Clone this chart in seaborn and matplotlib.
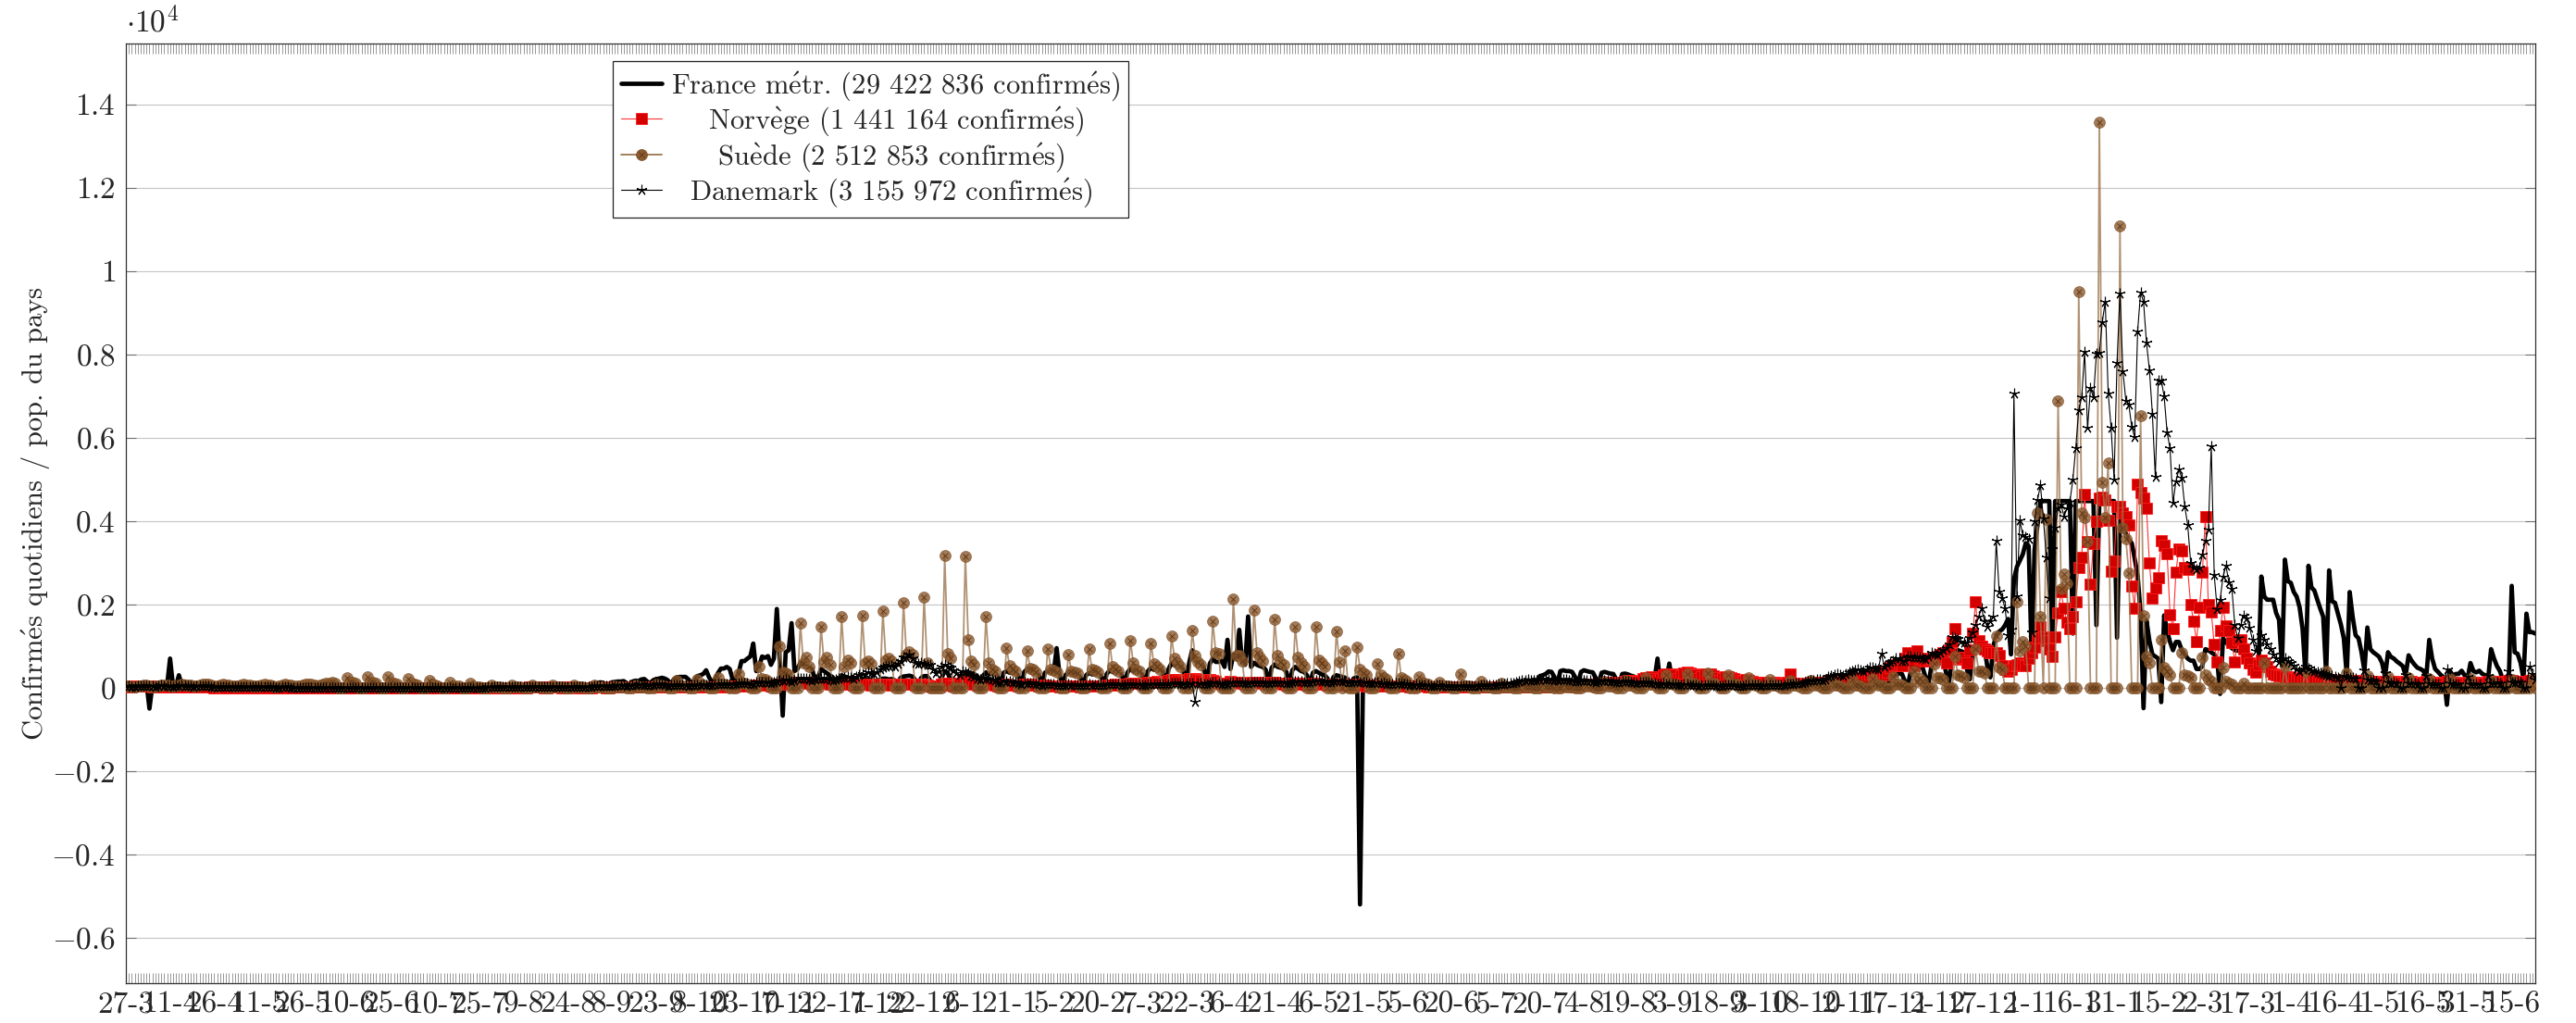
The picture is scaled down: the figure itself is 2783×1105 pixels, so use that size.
import numpy as np
import pandas as pd
import matplotlib
matplotlib.use("Agg")
import matplotlib.pyplot as plt
import seaborn as sns
from matplotlib.lines import Line2D
from matplotlib.ticker import MultipleLocator, FixedLocator, FuncFormatter
from matplotlib.font_manager import FontProperties

# ---------------------------------------------------------------------------
# Daily confirmed cases per million inhabitants, one row per week
# (Fri, Sat, Sun, Mon, Tue, Wed, Thu), first day 27-3-2020, 117 weeks.
# ---------------------------------------------------------------------------
FRANCE_W = [
    [55, 60, 40, 70, 110, 115, 80], [110, -500, 60, 50, 110, 100, 75], [65, 700, 50, 40, 300, 60, 150],
    [60, 30, 25, 40, 50, 30, 25], [25, 20, 15, 10, 20, 25, 20], [15, 10, 5, 5, 15, 20, 15],
    [10, 5, 5, 5, 10, 5, 10], [8, 5, 5, 3, 8, 8, 6], [5, 4, 3, 2, 5, 5, 5],
    [4, 3, 2, 2, 5, 5, 5], [4, 3, 2, 2, 5, 6, 5], [5, 3, 2, 2, 5, 6, 5],
    [5, 3, 2, 3, 6, 7, 6], [6, 4, 2, 3, 7, 8, 7], [8, 5, 3, 4, 8, 9, 9],
    [10, 6, 3, 5, 10, 12, 12], [14, 8, 4, 6, 14, 16, 18], [20, 10, 5, 8, 20, 22, 24],
    [22, 12, 5, 10, 25, 28, 30], [35, 20, 8, 12, 35, 40, 45], [50, 30, 12, 15, 55, 60, 65],
    [70, 50, 20, 25, 70, 80, 85], [95, 80, 30, 40, 95, 105, 110], [130, 120, 50, 60, 130, 140, 150],
    [150, 160, 110, 80, 150, 170, 160], [200, 210, 150, 90, 180, 210, 220], [240, 220, 180, 80, 200, 250, 260],
    [260, 260, 200, 90, 160, 280, 300], [330, 420, 250, 130, 200, 350, 460], [460, 500, 450, 200, 200, 350, 640],
    [640, 700, 750, 1060, 400, 520, 750], [720, 760, 550, 700, 1890, 650, -670], [850, 900, 1550, 400, 450, 600, 550],
    [500, 480, 450, 160, 250, 450, 400], [350, 300, 250, 90, 150, 300, 270], [250, 200, 180, 60, 120, 220, 200],
    [200, 200, 180, 60, 200, 220, 220], [200, 210, 180, 80, 240, 270, 280], [290, 270, 190, 90, 240, 280, 280],
    [180, 80, 50, 150, 250, 400, 360], [180, 200, 60, 80, 300, 380, 330], [320, 330, 280, 60, 290, 370, 330],
    [330, 330, 280, 60, 360, 400, 360], [360, 360, 280, 70, 380, 450, 400], [380, 370, 300, 70, 360, 400, 370],
    [370, 950, 300, 70, 300, 380, 340], [320, 320, 260, 70, 300, 360, 320], [330, 340, 300, 80, 330, 420, 380],
    [390, 390, 330, 90, 360, 460, 400], [380, 380, 320, 90, 400, 480, 430], [460, 460, 400, 100, 450, 590, 540],
    [500, 550, 430, 100, 600, 900, 650], [600, 600, 480, 120, 580, 700, 620], [620, 650, 500, 1150, 450, 800, 700],
    [1390, 600, 550, 1710, 500, 600, 550], [520, 500, 430, 100, 480, 560, 500], [480, 460, 380, 90, 420, 500, 450],
    [400, 380, 300, 80, 360, 400, 360], [320, 300, 220, 60, 260, 300, 280], [260, 240, 160, 50, 230, 250, -5200],
    [200, 190, 130, 40, 160, 180, 150], [140, 130, 90, 30, 110, 120, 100], [90, 80, 50, 20, 70, 70, 60],
    [55, 50, 35, 12, 45, 45, 40], [35, 30, 20, 8, 30, 30, 30], [30, 25, 15, 6, 30, 35, 35],
    [40, 40, 25, 10, 55, 65, 70], [80, 70, 45, 20, 100, 130, 150], [180, 170, 110, 40, 280, 300, 330],
    [390, 380, 260, 80, 400, 420, 400], [400, 380, 260, 90, 380, 420, 400], [380, 370, 240, 80, 360, 380, 360],
    [340, 330, 200, 70, 330, 340, 320], [290, 270, 160, 60, 280, 270, 260], [240, 220, 700, 50, 200, 190, 580],
    [170, 160, 100, 30, 150, 150, 140], [130, 120, 70, 25, 110, 110, 100], [100, 90, 50, 20, 90, 90, 80],
    [80, 75, 40, 15, 75, 75, 70], [70, 70, 35, 12, 70, 70, 65], [65, 60, 30, 12, 65, 70, 65],
    [65, 60, 30, 12, 70, 75, 75], [75, 70, 35, 15, 80, 90, 90], [90, 85, 40, 20, 100, 120, 130],
    [140, 130, 60, 30, 150, 170, 180], [190, 180, 90, 40, 220, 270, 300], [350, 330, 150, 60, 400, 470, 480],
    [500, 480, 250, 100, 520, 700, 720], [700, 680, 350, 150, 700, 880, 900], [880, 850, 450, 200, 850, 980, 1000],
    [950, 950, 500, 250, 1000, 1250, 1350], [1400, 1500, 1650, 800, 2600, 2900, 3050], [3200, 3470, 3400, 800, 3300, 3900, 4450],
    [4480, 4480, 4480, 1050, 4480, 4480, 4480], [4480, 4480, 4480, 1300, 4480, 4480, 4480], [4480, 4480, 4480, 4480, 1500, 4480, 4480],
    [4480, 4480, 4480, 4480, 1200, 4060, 3800], [3700, 3550, 3472, 3100, 2690, 1800, -490], [1614, 1125, 800, 750, 700, -345, 1737],
    [1369, 1100, 900, 1100, 1100, 900, 800], [700, 650, 650, 450, 450, 519, 926], [900, 850, 800, 700, -148, 1186, 1100],
    [1000, 950, 900, 889, 880, 750, 667], [620, 593, 500, 370, 2668, 2186, 2112], [2112, 2112, 1800, 1630, 519, 3075, 2556],
    [2519, 2300, 2186, 1927, 1408, 296, 2927], [2408, 2334, 2112, 1900, 1704, 333, 2816], [2075, 2038, 1778, 1519, 1186, 296, 2297],
    [1704, 1260, 1186, 852, 408, 1445, 926], [852, 800, 741, 593, 259, 852, 741], [700, 630, 580, 519, 300, 778, 650],
    [556, 480, 450, 408, 259, 1149, 700], [450, 380, 300, 250, -408, 408, 296], [330, 333, 408, 300, 222, 593, 400],
    [370, 408, 333, 300, 222, 926, 700], [519, 400, 185, 111, 200, 2445, 852], [815, 600, 222, 1778, 1334, 1334, 1300],
]

NORWAY_W = [
    [45, 40, 30, 35, 45, 50, 45], [40, 35, 25, 30, 35, 35, 30], [25, 20, 15, 15, 20, 20, 20],
    [18, 15, 10, 12, 15, 15, 12], [12, 10, 6, 8, 10, 10, 8], [8, 6, 4, 5, 6, 6, 5],
    [5, 4, 3, 3, 4, 4, 4], [3, 3, 2, 2, 3, 3, 3], [3, 2, 2, 2, 3, 3, 3],
    [3, 2, 2, 2, 3, 3, 3], [3, 2, 1, 2, 3, 3, 2], [2, 2, 1, 2, 3, 3, 2],
    [2, 2, 1, 2, 2, 3, 2], [2, 2, 1, 2, 3, 3, 3], [3, 2, 1, 2, 3, 3, 3],
    [3, 2, 2, 2, 3, 3, 3], [3, 2, 2, 2, 3, 4, 4], [4, 3, 2, 3, 4, 4, 4],
    [5, 4, 3, 4, 6, 7, 7], [8, 7, 5, 6, 9, 10, 10], [10, 9, 7, 8, 11, 12, 12],
    [10, 8, 6, 7, 10, 10, 10], [8, 7, 5, 6, 8, 9, 9], [10, 9, 7, 8, 12, 14, 15],
    [18, 16, 12, 14, 20, 22, 22], [22, 18, 14, 16, 22, 24, 22], [20, 16, 12, 14, 18, 20, 20],
    [20, 16, 12, 14, 20, 22, 24], [25, 22, 16, 20, 28, 30, 32], [32, 28, 22, 28, 36, 40, 42],
    [45, 40, 32, 40, 55, 60, 65], [70, 60, 50, 60, 80, 90, 95], [100, 90, 75, 90, 120, 130, 130],
    [125, 110, 90, 100, 120, 120, 115], [105, 90, 75, 85, 100, 100, 95], [85, 75, 60, 70, 85, 85, 80],
    [75, 65, 55, 65, 80, 85, 85], [80, 70, 60, 70, 85, 90, 90], [85, 75, 60, 70, 85, 80, 70],
    [40, 30, 25, 50, 90, 110, 100], [60, 50, 60, 110, 160, 150, 130], [110, 90, 70, 80, 100, 100, 90],
    [80, 65, 50, 60, 75, 75, 70], [70, 60, 50, 60, 80, 85, 80], [70, 55, 40, 45, 55, 50, 45],
    [40, 35, 25, 30, 40, 40, 40], [38, 32, 25, 30, 40, 45, 45], [50, 45, 38, 45, 60, 70, 70],
    [75, 70, 55, 65, 90, 100, 100], [110, 100, 80, 95, 130, 140, 140], [150, 140, 110, 130, 170, 190, 190],
    [200, 180, 150, 170, 210, 220, 210], [200, 170, 140, 160, 190, 180, 150], [110, 90, 80, 110, 150, 140, 130],
    [130, 110, 90, 110, 140, 140, 130], [120, 100, 80, 100, 120, 120, 110], [105, 90, 70, 85, 105, 105, 100],
    [95, 80, 65, 80, 100, 100, 95], [90, 75, 60, 75, 95, 95, 90], [80, 65, 50, 60, 75, 70, 60],
    [60, 50, 40, 45, 55, 55, 50], [48, 40, 32, 38, 45, 45, 42], [40, 33, 26, 30, 38, 38, 35],
    [32, 27, 20, 25, 30, 30, 28], [25, 20, 16, 20, 24, 24, 22], [20, 16, 12, 16, 20, 20, 18],
    [18, 15, 12, 15, 18, 20, 20], [20, 16, 12, 15, 20, 22, 22], [22, 18, 14, 18, 25, 28, 30],
    [32, 28, 20, 25, 35, 40, 42], [45, 40, 30, 40, 55, 65, 70], [75, 65, 50, 65, 90, 100, 110],
    [120, 100, 80, 100, 140, 160, 170], [180, 160, 120, 150, 210, 240, 250], [260, 230, 180, 220, 300, 320, 330],
    [330, 300, 230, 280, 360, 370, 360], [340, 300, 220, 260, 330, 340, 320], [290, 250, 180, 210, 270, 260, 240],
    [210, 170, 120, 150, 190, 180, 160], [140, 120, 90, 110, 140, 140, 130], [120, 100, 80, 95, 120, 340, 115],
    [110, 95, 75, 90, 115, 120, 120], [120, 100, 80, 100, 130, 140, 140], [150, 130, 110, 140, 190, 210, 230],
    [250, 220, 180, 230, 330, 360, 380], [400, 350, 300, 380, 480, 520, 560], [600, 538, 700, 831, 700, 538, 880],
    [700, 685, 650, 685, 700, 685, 750], [800, 831, 587, 900, 1100, 1418, 685], [700, 734, 587, 900, 1300, 2054, 1125],
    [1000, 929, 880, 831, 850, 831, 782], [538, 450, 391, 450, 538, 560, 587], [560, 538, 700, 850, 978, 1200, 1467],
    [1222, 1125, 929, 763, 1222, 1790, 2298], [1900, 1565, 1418, 1700, 2054, 2885, 3130], [4646, 3500, 2494, 3472, 4000, 4548, 4567],
    [4499, 4010, 2787, 3032, 4352, 4352, 4200], [4108, 3912, 2445, 1907, 4890, 4694, 4548], [4303, 3000, 2152, 2400, 2641, 3521, 3423],
    [3227, 1760, 1418, 2779, 3335, 3276, 2890], [2836, 2000, 1593, 1111, 1927, 2779, 4113], [2000, 1815, 1037, 630, 1371, 1927, 1482],
    [1371, 1075, 630, 1149, 1149, 926, 704], [600, 445, 370, 556, 667, 600, 519], [400, 333, 310, 296, 280, 270, 260],
    [250, 230, 200, 210, 240, 230, 220], [210, 190, 160, 180, 210, 200, 190], [180, 160, 140, 150, 180, 175, 170],
    [165, 150, 120, 140, 170, 165, 160], [150, 130, 110, 130, 160, 155, 150], [145, 125, 105, 125, 155, 150, 145],
    [140, 120, 100, 120, 150, 145, 140], [135, 115, 95, 115, 145, 140, 135], [130, 110, 90, 110, 140, 140, 135],
    [135, 115, 95, 115, 150, 150, 145], [145, 125, 100, 125, 165, 165, 160], [160, 140, 110, 140, 185, 185, 180],
]

SWEDEN_W = [
    [40, 45, 30, 25, 35, 50, 60], [55, 40, 30, 35, 50, 60, 70], [60, 45, 40, 40, 55, 75, 60],
    [60, 55, 45, 40, 60, 75, 80], [75, 60, 45, 50, 70, 75, 65], [65, 45, 40, 45, 70, 75, 70],
    [60, 50, 40, 40, 60, 75, 60], [60, 50, 30, 40, 60, 75, 70], [70, 50, 40, 40, 60, 80, 80],
    [80, 60, 45, 60, 90, 100, 110], [120, 100, 0, 0, 0, 250, 130], [120, 110, 0, 0, 0, 260, 140],
    [120, 100, 0, 0, 0, 270, 130], [110, 90, 0, 0, 0, 230, 100], [90, 70, 0, 0, 0, 180, 80],
    [60, 50, 0, 0, 0, 130, 50], [40, 35, 0, 0, 0, 100, 35], [30, 25, 0, 0, 0, 70, 25],
    [25, 20, 0, 0, 0, 60, 25], [25, 20, 0, 0, 0, 60, 25], [25, 20, 0, 0, 0, 60, 25],
    [25, 20, 0, 0, 0, 60, 25], [25, 20, 0, 0, 0, 60, 20], [20, 20, 0, 0, 0, 50, 25],
    [25, 20, 0, 0, 0, 60, 30], [30, 25, 0, 0, 0, 80, 40], [40, 35, 0, 0, 0, 180, 60],
    [50, 40, 0, 0, 0, 200, 70], [60, 50, 0, 0, 0, 240, 90], [80, 60, 0, 0, 0, 330, 130],
    [110, 90, 0, 0, 0, 510, 220], [200, 150, 0, 0, 0, 990, 380], [350, 300, 0, 0, 0, 1550, 590],
    [740, 500, 0, 0, 0, 1470, 620], [720, 550, 0, 0, 0, 1700, 510], [660, 600, 0, 0, 0, 1720, 590],
    [640, 580, 0, 0, 0, 1840, 670], [710, 650, 0, 0, 0, 2040, 790], [860, 800, 0, 0, 0, 2180, 600],
    [0, 0, 0, 0, 0, 3180, 810], [700, 0, 0, 0, 0, 3160, 1150], [640, 550, 0, 0, 0, 1700, 600],
    [450, 400, 0, 0, 0, 950, 520], [450, 400, 0, 0, 0, 880, 470], [450, 380, 0, 0, 0, 940, 450],
    [420, 380, 0, 0, 0, 800, 400], [380, 350, 0, 0, 0, 920, 450], [420, 380, 0, 0, 0, 1070, 500],
    [450, 400, 0, 0, 0, 1140, 600], [450, 400, 0, 0, 0, 1070, 580], [500, 450, 0, 0, 0, 1240, 700],
    [600, 500, 0, 0, 0, 1380, 770], [620, 550, 0, 0, 0, 1600, 850], [810, 0, 0, 0, 0, 2120, 770],
    [770, 650, 0, 0, 0, 1870, 850], [730, 650, 0, 0, 0, 1640, 770], [620, 550, 0, 0, 0, 1460, 730],
    [590, 500, 0, 0, 0, 1460, 660], [590, 500, 0, 0, 0, 1350, 620], [0, 895, 0, 0, 0, 976, 450],
    [350, 300, 0, 0, 0, 585, 300], [250, 200, 0, 0, 0, 830, 250], [200, 150, 0, 0, 0, 274, 120],
    [100, 80, 0, 0, 0, 140, 60], [50, 40, 0, 0, 0, 341, 60], [50, 40, 0, 0, 0, 150, 40],
    [30, 30, 0, 0, 0, 100, 30], [25, 20, 0, 0, 0, 80, 25], [20, 20, 0, 0, 0, 80, 25],
    [20, 20, 0, 0, 0, 90, 30], [25, 20, 0, 0, 0, 110, 40], [35, 30, 0, 0, 0, 150, 50],
    [45, 40, 0, 0, 0, 180, 70], [60, 50, 0, 0, 0, 240, 90], [80, 70, 0, 0, 0, 300, 100],
    [90, 80, 0, 0, 0, 330, 110], [100, 90, 0, 0, 0, 360, 110], [100, 90, 0, 0, 0, 300, 100],
    [90, 80, 0, 0, 0, 240, 80], [70, 60, 0, 0, 0, 200, 70], [60, 50, 0, 0, 0, 180, 60],
    [55, 50, 0, 0, 0, 180, 60], [55, 50, 0, 0, 0, 190, 60], [55, 50, 0, 0, 0, 200, 70],
    [60, 50, 0, 0, 0, 230, 80], [70, 60, 0, 0, 0, 270, 90], [80, 70, 0, 0, 0, 391, 150],
    [215, 150, 0, 0, 0, 567, 250], [245, 200, 0, 0, 0, 753, 300], [293, 250, 0, 0, 0, 929, 400],
    [391, 350, 0, 0, 0, 1242, 479], [450, 0, 0, 0, 0, 2073, 880], [1105, 1000, 0, 0, 0, 4205, 1711],
    [0, 4039, 0, 0, 0, 6895, 2377], [2719, 2500, 0, 0, 0, 9506, 4205], [4088, 3500, 0, 0, 0, 13575, 4920],
    [4078, 5400, 0, 0, 0, 11081, 3843], [3570, 2758, 0, 0, 0, 6523, 1731], [753, 600, 0, 0, 0, 1154, 489],
    [391, 300, 0, 0, 0, 831, 300], [293, 250, 0, 0, 0, 741, 300], [200, 150, 0, 0, 0, 482, 150],
    [100, 80, 0, 0, 0, 100, 0], [0, 0, 0, 0, 0, 593, 0], [0, 0, 0, 0, 0, 519, 0],
    [0, 0, 0, 0, 0, 408, 0], [0, 0, 0, 0, 0, 408, 0], [0, 0, 0, 0, 0, 350, 0],
    [0, 0, 0, 0, 0, 296, 0], [0, 0, 0, 0, 0, 259, 0], [0, 0, 0, 0, 0, 240, 0],
    [0, 0, 0, 0, 0, 222, 0], [0, 0, 0, 0, 0, 222, 0], [0, 0, 0, 0, 0, 210, 0],
    [0, 0, 0, 0, 0, 200, 0], [0, 0, 0, 0, 0, 200, 0], [0, 0, 0, 0, 0, 220, 0],
]

DENMARK_W = [
    [40, 35, 30, 25, 35, 40, 45], [45, 40, 35, 30, 50, 55, 50], [45, 40, 30, 35, 50, 55, 50],
    [45, 35, 30, 40, 50, 45, 40], [40, 30, 25, 30, 30, 25, 25], [25, 20, 20, 20, 20, 20, 20],
    [20, 15, 10, 15, 15, 15, 12], [12, 10, 8, 8, 10, 10, 10], [8, 8, 6, 6, 8, 8, 8],
    [8, 6, 5, 5, 8, 7, 6], [6, 6, 5, 5, 6, 6, 5], [5, 4, 4, 4, 5, 5, 5],
    [5, 4, 3, 3, 5, 5, 5], [4, 3, 3, 3, 4, 4, 4], [4, 3, 3, 3, 4, 4, 4],
    [4, 3, 3, 4, 5, 5, 5], [5, 4, 4, 5, 6, 7, 7], [8, 6, 6, 8, 10, 12, 12],
    [14, 12, 10, 12, 16, 18, 18], [20, 18, 15, 14, 18, 20, 18], [18, 16, 14, 16, 20, 22, 22],
    [22, 20, 16, 18, 24, 26, 26], [28, 26, 22, 24, 30, 34, 36], [40, 36, 32, 36, 45, 50, 55],
    [60, 55, 50, 55, 65, 70, 75], [80, 70, 55, 60, 70, 75, 80], [75, 65, 50, 55, 70, 70, 65],
    [60, 55, 50, 55, 65, 70, 70], [75, 70, 60, 70, 80, 85, 90], [95, 85, 75, 80, 95, 100, 110],
    [115, 100, 85, 95, 120, 130, 135], [140, 125, 110, 125, 150, 170, 180], [190, 180, 160, 180, 210, 230, 220],
    [220, 200, 170, 190, 220, 220, 210], [210, 190, 170, 190, 230, 240, 250], [260, 250, 230, 260, 300, 320, 340],
    [370, 360, 340, 380, 450, 480, 500], [540, 520, 500, 585, 650, 733, 720], [806, 700, 600, 585, 600, 585, 560],
    [550, 450, 350, 400, 511, 550, 500], [480, 420, 363, 300, 400, 380, 350], [289, 270, 220, 200, 250, 215, 220],
    [200, 170, 140, 130, 170, 160, 150], [140, 120, 100, 95, 120, 115, 110], [100, 90, 75, 70, 85, 85, 80],
    [75, 70, 60, 55, 70, 75, 70], [70, 65, 55, 55, 70, 75, 70], [70, 65, 55, 55, 75, 80, 80],
    [80, 75, 65, 65, 85, 90, 90], [90, 85, 70, 70, 90, 95, 95], [95, 90, 75, 75, 95, 100, 100],
    [100, 95, 80, 80, 100, 105, -340], [110, 100, 85, 90, 115, 120, 120], [100, 90, 80, 90, 130, 140, 140],
    [130, 120, 100, 110, 130, 140, 140], [130, 120, 100, 110, 130, 140, 140], [130, 120, 100, 110, 140, 150, 150],
    [150, 140, 120, 130, 160, 170, 170], [160, 150, 130, 140, 160, 170, 170], [160, 150, 120, 130, 150, 150, 140],
    [130, 120, 100, 100, 120, 120, 110], [100, 90, 80, 80, 100, 100, 90], [80, 75, 60, 60, 75, 70, 65],
    [60, 55, 45, 45, 55, 55, 50], [45, 40, 35, 35, 45, 45, 45], [45, 40, 35, 40, 50, 55, 60],
    [65, 60, 55, 60, 75, 85, 95], [105, 110, 105, 120, 150, 170, 180], [190, 185, 175, 185, 205, 210, 205],
    [200, 190, 170, 180, 200, 195, 190], [180, 170, 150, 160, 180, 175, 170], [165, 155, 140, 150, 170, 170, 165],
    [160, 150, 130, 140, 160, 155, 150], [140, 130, 110, 120, 135, 130, 120], [110, 100, 85, 90, 100, 95, 90],
    [85, 75, 65, 70, 80, 75, 70], [65, 60, 50, 55, 65, 60, 55], [55, 50, 45, 45, 55, 55, 55],
    [55, 50, 45, 50, 60, 60, 60], [60, 55, 50, 55, 65, 70, 70], [70, 65, 60, 65, 80, 85, 90],
    [110, 110, 100, 120, 150, 165, 180], [200, 190, 180, 200, 260, 280, 300], [320, 300, 290, 330, 380, 400, 420],
    [440, 420, 400, 440, 480, 480, 470], [450, 830, 500, 550, 620, 650, 700], [700, 636, 640, 753, 750, 740, 720],
    [720, 700, 680, 760, 831, 830, 800], [850, 900, 950, 1050, 1222, 1200, 1174], [1100, 1080, 1076, 1200, 1320, 1516, 1700],
    [1907, 1600, 1467, 1600, 1711, 3521, 2298], [2152, 1907, 1271, 1400, 7071, 2200, 4010], [3667, 3619, 3570, 1340, 4000, 4500, 4861],
    [4059, 3130, 2152, 3325, 3843, 4303, 4401], [4108, 4300, 4469, 4988, 5760, 6670, 6963], [8059, 6230, 7188, 6963, 8020, 8039, 8782],
    [9262, 7071, 6230, 5007, 7795, 9467, 7599], [6895, 6797, 6259, 6015, 8558, 9487, 9262], [8284, 7628, 6582, 5056, 7384, 7384, 6993],
    [6132, 5741, 4430, 4958, 5232, 5037, 4352], [3912, 3002, 2885, 2836, 2890, 3186, 3520], [3800, 5795, 2705, 1890, 2112, 2668, 2927],
    [2519, 2371, 1500, 1186, 1500, 1741, 1667], [1445, 1150, 889, 1000, 1260, 1150, 1037], [926, 800, 700, 630, 680, 704, 650],
    [593, 520, 450, 408, 450, 519, 470], [430, 408, 380, 350, 333, 310, 296], [280, 259, 250, 0, 296, 270, 250],
    [240, 220, 0, 0, 420, 200, 185], [170, 150, 0, 0, 350, 130, 111], [120, 100, 0, 0, 300, 110, 100],
    [100, 90, 0, 0, 280, 100, 95], [95, 90, 0, 0, 445, 100, 90], [90, 80, 0, 0, 260, 95, 90],
    [95, 90, 0, 0, 280, 110, 110], [120, 110, 0, 0, 408, 140, 140], [150, 140, 0, 0, 519, 333, 200],
]

TICK_LABELS = ["27-3", "11-4", "26-4", "11-5", "26-5", "10-6", "25-6", "10-7", "25-7", "9-8",
               "24-8", "8-9", "23-9", "8-10", "23-10", "7-11", "22-11", "7-12", "22-12", "6-1",
               "21-1", "5-2", "20-2", "7-3", "22-3", "6-4", "21-4", "6-5", "21-5", "5-6",
               "20-6", "5-7", "20-7", "4-8", "19-8", "3-9", "18-9", "3-10", "18-10", "2-11",
               "17-11", "2-12", "17-12", "1-1", "16-1", "31-1", "15-2", "2-3", "17-3", "1-4",
               "16-4", "1-5", "16-5", "31-5", "15-6"]
TICK_STEP = 15

# accented letters written with mathtext accents so they stay in Computer Modern
E_AC = r"$\acute{\mathrm{e}}$"
E_GR = r"$\grave{\mathrm{e}}$"
LABELS = ["France m" + E_AC + "tr. (29 422 836 confirm" + E_AC + "s)",
          "Norv" + E_GR + "ge (1 441 164 confirm" + E_AC + "s)",
          "Su" + E_GR + "de (2 512 853 confirm" + E_AC + "s)",
          "Danemark (3 155 972 confirm" + E_AC + "s)"]
YLABEL = "Confirm" + E_AC + "s quotidiens / pop. du pays"

# ---------------------------------------------------------------------------
series = {}
for name, w in [("France", FRANCE_W), ("Norvege", NORWAY_W), ("Suede", SWEDEN_W), ("Danemark", DENMARK_W)]:
    series[name] = np.concatenate([np.asarray(r, dtype=float) for r in w])
n = min(len(v) for v in series.values())
df = pd.DataFrame({k: v[:n] for k, v in series.items()})
df["jour"] = np.arange(n)

sns.set_theme(style="white")
FAM = ["cmr10", "DejaVu Serif"]
plt.rcParams["font.family"] = FAM
plt.rcParams["mathtext.fontset"] = "cm"
plt.rcParams["axes.unicode_minus"] = False
plt.rcParams["axes.formatter.use_mathtext"] = True
FS = 24      # tick labels
TFS = 22     # legend / axis label

W, H = 2783, 1105
fig = plt.figure(figsize=(W / 100, H / 100), dpi=100)
ax = fig.add_axes([136 / W, 1 - 1062 / H, (2739 - 136) / W, (1062 - 47) / H])

common = dict(ax=ax, x="jour", estimator=None, errorbar=None, sort=False, legend=False)
FR_LW = 3.4
MS = 8.3
NO_FACE, NO_EDGE, NO_LINE = "#d40000", "#ff1a1a", "#ff3030"
SE_FACE, SE_EDGE, SE_LINE, SE_X = "#8c5a2e", "#7a4a22", "#9c7650", "#5a3515"
DK_COL = "#000000"

sns.lineplot(data=df, y="France", color="black", linewidth=FR_LW, zorder=3, **common)
sns.lineplot(data=df, y="Norvege", color=NO_LINE, linewidth=0.8, marker="s", markersize=MS,
             markerfacecolor=NO_FACE, markeredgecolor=NO_EDGE, markeredgewidth=0.6, zorder=4, **common)
sns.lineplot(data=df, y="Suede", color=SE_LINE, linewidth=1.3, alpha=0.8, marker="o", markersize=MS + 0.3,
             markerfacecolor=SE_FACE, markeredgecolor=SE_EDGE, markeredgewidth=0.5, zorder=5, **common)
sns.lineplot(data=df, y="Suede", color=SE_X, linestyle="", marker="x", markersize=4.6,
             markeredgecolor=SE_X, markeredgewidth=0.6, zorder=5.1, **common)
sns.lineplot(data=df, y="Danemark", color=DK_COL, linewidth=0.8, marker=(5, 2, 0), markersize=MS,
             markeredgecolor=DK_COL, markeredgewidth=0.8, zorder=6, **common)

ax.set_xlim(0, n - 1)
ax.set_ylim(-7090, 15460)
ax.set_xlabel("")
ax.set_ylabel(YLABEL, fontsize=TFS)
ax.yaxis.set_label_coords((57 - 136) / (2739 - 136), 0.5)

ax.xaxis.set_major_locator(FixedLocator(np.arange(0, TICK_STEP * len(TICK_LABELS), TICK_STEP)))
ax.set_xticklabels(TICK_LABELS)
ax.xaxis.set_minor_locator(MultipleLocator(1))
ax.tick_params(axis="x", which="both", direction="in", top=True, bottom=True, length=8,
               width=0.5, color="#6e6e6e", labelsize=FS, pad=6)
ax.yaxis.set_major_locator(FixedLocator(np.arange(-6000, 14001, 2000)))
ax.yaxis.set_major_formatter(FuncFormatter(lambda v, p: "$%g$" % round(v / 1e4, 2)))
ax.tick_params(axis="y", which="major", direction="in", left=True, right=True, length=8,
               width=0.8, color="#707070", labelsize=FS, pad=8)
ax.yaxis.grid(True, color="#c4c4c4", linewidth=0.8)
ax.xaxis.grid(False)
ax.set_axisbelow(True)
for s in ax.spines.values():
    s.set_color("#303030")
    s.set_linewidth(0.9)

ax.text(0.0, 1.006, r"$\cdot 10^{4}$", transform=ax.transAxes, ha="left", va="bottom", fontsize=FS)

# legend (labels centred like pgfplots)
fig.canvas.draw()
rend = fig.canvas.get_renderer()
fp = FontProperties(family=FAM, size=TFS)


def text_w(s):
    t = fig.text(0, 0, s, fontproperties=fp)
    w = t.get_window_extent(rend).width
    t.remove()
    return w


sp = text_w("a a") - text_w("aa")
widths = [text_w(l) for l in LABELS]
mw = max(widths)
padded = [" " * int(round((mw - w) / 2 / sp)) + l for l, w in zip(LABELS, widths)]

h_fr = Line2D([], [], color="black", lw=FR_LW)
h_no = Line2D([], [], color=NO_LINE, lw=0.8, marker="s", ms=MS, mfc=NO_FACE, mec=NO_EDGE, mew=0.6)
h_se = (Line2D([], [], color=SE_LINE, lw=1.3, marker="o", ms=MS + 0.3, mfc=SE_FACE, mec=SE_EDGE, mew=0.5),
        Line2D([], [], ls="", marker="x", ms=4.6, mec=SE_X, mew=0.6))
h_dk = Line2D([], [], color=DK_COL, lw=0.8, marker=(5, 2, 0), ms=MS, mec=DK_COL, mew=0.8)
leg = ax.legend([h_fr, h_no, h_se, h_dk], padded, loc="upper left",
                bbox_to_anchor=((662 - 136) / (2739 - 136), (1062 - 66) / (1062 - 47)),
                borderaxespad=0, prop=fp, frameon=True, fancybox=False, framealpha=1,
                edgecolor="#202020", handlelength=1.45, handletextpad=0.3, labelspacing=0.1,
                borderpad=0.3)
leg.get_frame().set_linewidth(0.9)
leg.set_zorder(10)

fig.savefig("out.png", dpi=100)
